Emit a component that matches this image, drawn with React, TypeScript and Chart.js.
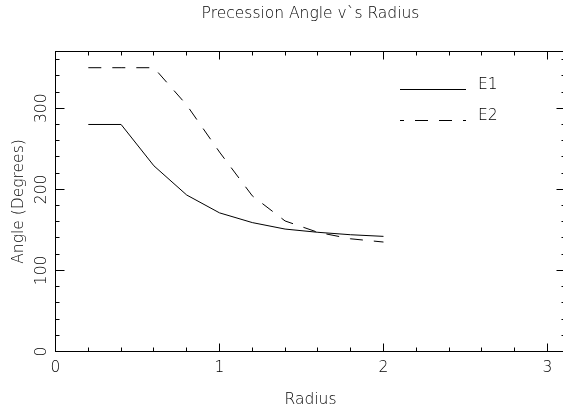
import React, { useEffect, useRef } from "react";
import { Chart, registerables } from "chart.js";

Chart.register(...registerables);

const radius = [0.2, 0.4, 0.6, 0.8, 1.0, 1.2, 1.4, 1.6, 1.8, 2.0];
const e1 = [280, 280, 229, 193, 171, 159, 151, 147, 144, 142];
const e2 = [350, 350, 350, 304, 246, 192, 161, 147, 139, 135];
const xTickLabels = ["0", "1", "2", "3"];
const yTickLabels = ["0", "100", "200", "300"];
const seriesNames = ["E1", "E2"];
const titleText = "Precession Angle v`s Radius";
const xTitle = "Radius";
const yTitle = "Angle (Degrees)";

const FONT = '200 15.5px "DejaVu Sans"';
const INK = "#000";
const DASH = [13, 11];

const snap = (v: number) => Math.round(v - 0.5) + 0.5;

const framePlugin = {
  id: "frame",
  afterDraw(chart: any) {
    const { ctx, chartArea } = chart;
    const { left, right, top, bottom } = chartArea;
    const xs = chart.scales.x;
    const ys = chart.scales.y;
    ctx.save();
    ctx.strokeStyle = "#000";
    ctx.lineWidth = 1;
    ctx.strokeRect(left, top, right - left, bottom - top);
    ctx.beginPath();
    for (let i = 0; i * 0.2 <= xs.max + 1e-9; i++) {
      const px = snap(xs.getPixelForValue(i * 0.2));
      const len = i % 5 === 0 ? 8 : 4;
      ctx.moveTo(px, bottom);
      ctx.lineTo(px, bottom - len);
      ctx.moveTo(px, top);
      ctx.lineTo(px, top + len);
    }
    for (let i = 0; i * 20 <= ys.max + 1e-9; i++) {
      const py = snap(ys.getPixelForValue(i * 20));
      const len = i % 5 === 0 ? 9 : 4;
      ctx.moveTo(left, py);
      ctx.lineTo(left + len, py);
      ctx.moveTo(right, py);
      ctx.lineTo(right - len, py);
    }
    ctx.stroke();

    ctx.fillStyle = INK;
    ctx.font = FONT;
    ctx.textAlign = "center";
    ctx.textBaseline = "alphabetic";
    xTickLabels.forEach((t) => {
      const px = xs.getPixelForValue(Number(t));
      ctx.fillText(t, px, 371.5);
    });
    yTickLabels.forEach((t) => {
      const py = ys.getPixelForValue(Number(t));
      ctx.save();
      ctx.translate(45.5, py);
      ctx.rotate(-Math.PI / 2);
      ctx.fillText(t, 0, 0);
      ctx.restore();
    });
    const cx = (left + right) / 2;
    ctx.fillText(titleText, cx, 17.5);
    ctx.fillText(xTitle, cx, 404);
    ctx.save();
    ctx.translate(22.5, (top + bottom) / 2);
    ctx.rotate(-Math.PI / 2);
    ctx.fillText(yTitle, 0, 0);
    ctx.restore();

    const lx0 = 400;
    const lx1 = 466;
    const ly = [89, 120];
    ctx.textAlign = "left";
    seriesNames.forEach((name, i) => {
      ctx.beginPath();
      ctx.setLineDash(i === 1 ? DASH : []);
      ctx.lineDashOffset = i === 1 ? 9 : 0;
      ctx.moveTo(lx0, ly[i] + 0.5);
      ctx.lineTo(lx1, ly[i] + 0.5);
      ctx.stroke();
      ctx.setLineDash([]);
      ctx.fillText(name, 478, ly[i]);
    });
    ctx.restore();
  },
};

export default function App() {
  const ref = useRef<HTMLCanvasElement>(null);
  useEffect(() => {
    document.body.style.margin = "0";
    const canvas = ref.current!;
    const chart = new Chart(canvas, {
      type: "line",
      data: {
        datasets: [
          {
            label: seriesNames[0],
            data: radius.map((r, i) => ({ x: r, y: e1[i] })),
            borderColor: "#000",
            borderWidth: 1,
            pointRadius: 0,
            fill: false,
            tension: 0,
          },
          {
            label: seriesNames[1],
            data: radius.map((r, i) => ({ x: r, y: e2[i] })),
            borderColor: "#000",
            borderWidth: 1,
            borderDash: DASH,
            pointRadius: 0,
            fill: false,
            tension: 0,
          },
        ],
      },
      options: {
        responsive: false,
        animation: false,
        devicePixelRatio: 1,
        layout: { padding: { top: 51.5, right: 4.5, left: 0, bottom: 0 } },
        plugins: { legend: { display: false }, tooltip: { enabled: false }, title: { display: false } },
        scales: {
          x: {
            type: "linear",
            min: 0,
            max: 3.11,
            ticks: { display: false, stepSize: 1, includeBounds: false },
            grid: { display: false, drawTicks: false },
            border: { display: false },
            afterFit: (s: any) => {
              s.height = 56.5;
            },
          },
          y: {
            type: "linear",
            min: 0,
            max: 370,
            ticks: { display: false, stepSize: 100, includeBounds: false },
            grid: { display: false, drawTicks: false },
            border: { display: false },
            afterFit: (s: any) => {
              s.width = 55.5;
            },
          },
        },
      },
      plugins: [framePlugin],
    });
    return () => chart.destroy();
  }, []);
  return (
    <div style={{ position: "fixed", left: 0, top: 0, width: 563, height: 408, overflow: "hidden", background: "#fff" }}>
      <canvas ref={ref} width={570} height={408} style={{ display: "block", width: 570, height: 408 }} />
    </div>
  );
}
